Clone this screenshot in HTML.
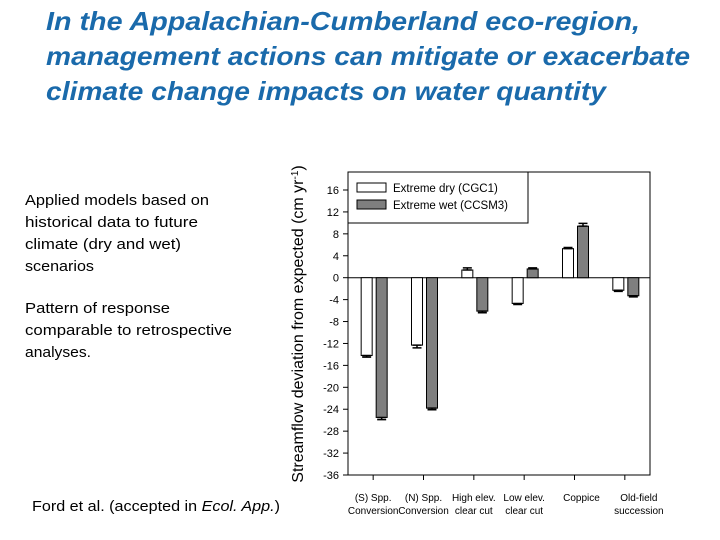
<!DOCTYPE html>
<html><head><meta charset="utf-8"><style>
html,body{margin:0;padding:0;background:#fff;}
svg{display:block;font-family:"Liberation Sans",sans-serif;}
</style></head><body>
<svg id="chart" width="720" height="540" viewBox="0 0 720 540">
<g fill="#1a6aab" font-weight="bold" font-style="italic" font-size="26">
<text x="46" y="30" textLength="594" lengthAdjust="spacingAndGlyphs">In the Appalachian-Cumberland eco-region,</text>
<text x="46" y="65" textLength="644" lengthAdjust="spacingAndGlyphs">management actions can mitigate or exacerbate</text>
<text x="46" y="100" textLength="560" lengthAdjust="spacingAndGlyphs">climate change impacts on water quantity</text>
</g>
<g fill="#000" font-size="15">
<text x="25" y="205" textLength="184" lengthAdjust="spacingAndGlyphs">Applied models based on</text>
<text x="25" y="227" textLength="173" lengthAdjust="spacingAndGlyphs">historical data to future</text>
<text x="25" y="249" textLength="156" lengthAdjust="spacingAndGlyphs">climate (dry and wet)</text>
<text x="25" y="271" textLength="69" lengthAdjust="spacingAndGlyphs">scenarios</text>
<text x="25" y="313" textLength="145" lengthAdjust="spacingAndGlyphs">Pattern of response</text>
<text x="25" y="335" textLength="207" lengthAdjust="spacingAndGlyphs">comparable to retrospective</text>
<text x="25" y="357" textLength="66" lengthAdjust="spacingAndGlyphs">analyses.</text>
</g>
<text x="32" y="511" font-size="15" textLength="248" lengthAdjust="spacingAndGlyphs">Ford et al. (accepted in <tspan font-style="italic">Ecol. App.</tspan>)</text>
<g id="plot"></g>
</svg>
<script>
const categories = [["(S) Spp.","Conversion"],["(N) Spp.","Conversion"],["High elev.","clear cut"],["Low elev.","clear cut"],["Coppice",""],["Old-field","succession"]];
const dryValues = [-14.2, -12.3, 1.4, -4.7, 5.3, -2.3];
const dryErr = [0.3, 0.5, 0.4, 0.2, 0.2, 0.2];
const wetValues = [-25.5, -23.8, -6.1, 1.6, 9.4, -3.3];
const wetErr = [0.4, 0.3, 0.3, 0.2, 0.5, 0.2];
const yTicks = [16,12,8,4,0,-4,-8,-12,-16,-20,-24,-28,-32,-36];
const seriesNames = ["Extreme dry (CGC1)","Extreme wet (CCSM3)"];

const NS="http://www.w3.org/2000/svg";
const g=document.getElementById('plot');
const L=348,R=650,T=172,B=475;
const yMin=-36,yMax=16,yTop=190;
function y(v){return B-(v-yMin)*(B-yTop)/(yMax-yMin);}
const bw=(R-L)/categories.length;
function xc(i){return L+bw*(i+0.5);}
function mk(tag,attrs,parent){const e=document.createElementNS(NS,tag);for(const k in attrs)e.setAttribute(k,attrs[k]);(parent||g).appendChild(e);return e;}

const frame=mk('rect',{x:L,y:T,width:R-L,height:B-T,fill:'none',stroke:'#000','stroke-width':1});



yTicks.forEach(v=>{
  const t=mk('line',{x1:L-5,x2:L,y1:y(v),y2:y(v),stroke:'#000'});
  
  
  const lb=mk('text',{x:L-9,y:y(v)+4,'text-anchor':'end','font-size':11});
  lb.textContent=v;
  
  
});
const zl=mk('line',{x1:L,x2:R,y1:y(0),y2:y(0),stroke:'#000'});



const yt=mk('text',{transform:'translate(303,324) rotate(-90)','text-anchor':'middle','font-size':16});
yt.innerHTML='Streamflow deviation from expected (cm yr<tspan baseline-shift="super" font-size="10">-1</tspan>)';



const w=11,gap=4;
function bar(i,v,e,dx,fill,name){
  const x0=xc(i)+dx;
  const top=Math.min(y(v),y(0)),h=Math.abs(y(v)-y(0));
  const r=mk('rect',{x:x0,y:top,width:w,height:h,fill:fill,stroke:'#000','stroke-width':1});
  
  
  const cx=x0+w/2, sgn=v>=0?1:-1;
  const ye=y(v+sgn*e);
  const el=mk('path',{d:`M${cx},${y(v)}V${ye}M${x0+1},${ye}H${x0+w-1}M${x0+1},${y(v)}H${x0+w-1}`,stroke:'#000','stroke-width':1.5,fill:'none'});
  
  
}
categories.forEach((c,i)=>{
  bar(i,dryValues[i],dryErr[i],-w-gap/2+1,'#fff','bar-dry');
  bar(i,wetValues[i],wetErr[i],gap/2+1,'#7f7f7f','bar-wet');
  const t=mk('line',{x1:xc(i),x2:xc(i),y1:B,y2:B+5,stroke:'#000'});
  
  
  c.forEach((s,k)=>{
    const lb=mk('text',{x:xc(i)+(i===5?14:i===4?7:0),y:501+k*13,'text-anchor':'middle','font-size':10});
    lb.textContent=s;
    
    
  });
});

const lg=mk('g',{});


mk('rect',{x:L,y:T,width:180,height:51,fill:'#fff',stroke:'#000'},lg);
[['#fff'],['#7f7f7f']].forEach((f,k)=>{
  const sw=mk('rect',{x:357,y:183+k*17,width:29,height:9,fill:f[0],stroke:'#000'},lg);
  
  
  const t=mk('text',{x:393,y:192+k*17,'font-size':11.5},lg);
  t.textContent=seriesNames[k];
  
  
});
</script>
</body></html>
